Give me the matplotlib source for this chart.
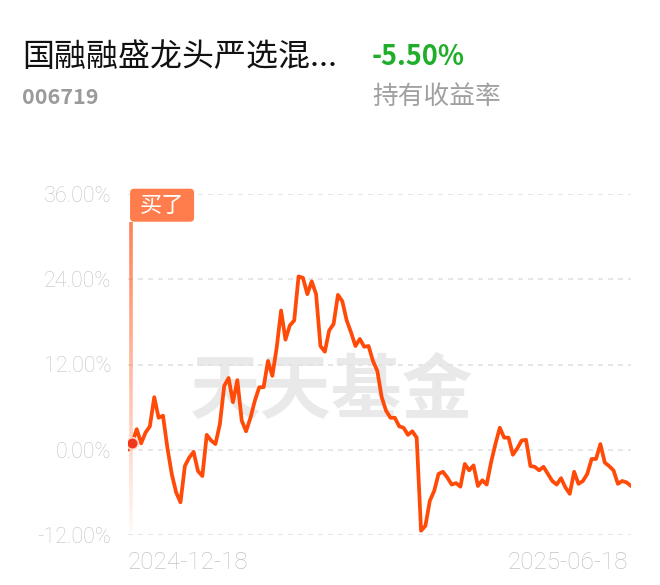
import numpy as np
import matplotlib
matplotlib.use("Agg")
import matplotlib.pyplot as plt
from matplotlib.collections import LineCollection
from matplotlib.patches import FancyBboxPatch
from matplotlib.transforms import ScaledTranslation

plt.rcParams['font.family'] = ['Noto Sans CJK SC', 'DejaVu Sans']

# fund info
fund_name = "国融融盛龙头严选混..."
fund_code = "006719"
hold_return = "-5.50%"
return_label = "持有收益率"
buy_label = "买了"
watermark = "天天基金"
start_date = "2024-12-18"
end_date = "2025-06-18"

# holding return (%) per trading day
returns = [0.0, 1.0, 2.9, 0.9, 2.4, 3.3, 7.4, 4.5, 4.8, 0.3,
           -3.4, -6.0, -7.4, -2.3, -1.1, -0.3, -3.0, -3.7, 2.1, 1.3,
           0.8, 3.6, 9.0, 10.1, 6.7, 9.8, 4.1, 2.6, 4.5, 6.9,
           8.8, 8.8, 12.5, 10.4, 14.4, 19.6, 15.5, 17.5, 18.2, 24.4,
           24.2, 21.9, 23.7, 21.9, 14.6, 13.8, 16.8, 17.7, 21.8, 20.9,
           18.2, 16.5, 14.6, 15.6, 14.5, 14.6, 12.5, 11.1, 7.4, 5.5,
           4.5, 4.5, 3.3, 3.1, 2.1, 2.6, 1.7, -11.4, -10.7, -7.2,
           -5.8, -3.4, -3.1, -3.9, -4.9, -4.7, -5.2, -2.0, -2.9, -2.2,
           -5.1, -4.3, -4.9, -1.8, 0.8, 3.1, 1.7, 1.7, -0.7, 0.2,
           1.3, 1.4, -2.3, -2.4, -2.9, -2.4, -3.4, -4.4, -4.9, -4.0,
           -5.3, -6.2, -3.1, -4.8, -4.4, -3.4, -1.3, -1.3, 0.8, -1.8,
           -2.3, -2.9, -4.8, -4.4, -4.6, -5.1]
yticks = [-12, 0, 12, 24, 36]
buy_index = 1

days = np.arange(len(returns))

fig = plt.figure(figsize=(6.6, 5.85), dpi=100)
fig.patch.set_facecolor("white")
ax = fig.add_axes([128/660, 1-535/585, (631-128)/660, (535-194)/585])
ax.set_xlim(0, len(returns)-1)
ax.set_ylim(-12, 36)
ax.set_facecolor("white")
for s in ax.spines.values():
    s.set_visible(False)

# grid
for y in yticks:
    ax.axhline(y, color="#e2e2e2", lw=1.2, ls=(0, (3, 3)), zorder=1)

ax.set_yticks(yticks)
ax.set_yticklabels(["%.2f%%" % v for v in yticks], family="Roboto",
                   fontweight="light", fontsize=15.5, color="#c4c4c4")
ax.tick_params(axis="y", length=0, pad=12)
ax.set_xticks([])

# watermark
ax.text(0.405, 0.42, watermark, transform=ax.transAxes, ha="center", va="center",
        fontsize=51, fontweight="bold", color="#e9e9e9", zorder=0)

# buy marker: fading vertical line
bx = 0.75
ys = np.linspace(32.1, -11.4, 60)
segs = [[(bx, ys[i]), (bx, ys[i+1])] for i in range(len(ys)-1)]
cols = [(1.0, 0.48, 0.30, a) for a in np.linspace(0.95, 0.05, len(segs))]
ax.add_collection(LineCollection(segs, colors=cols, linewidths=2.6, zorder=2))

trans = fig.dpi_scale_trans + ScaledTranslation(bx, 32.1, ax.transData)
box = FancyBboxPatch((-0.012, 0), 0.64, 0.33, boxstyle="round,pad=0,rounding_size=0.04",
                     fc="#ff7c4c", ec="none", transform=trans, clip_on=False, zorder=5)
ax.add_patch(box)
ax.text(0.308, 0.165, buy_label, transform=trans, ha="center", va="center",
        fontsize=16, color="white", zorder=6)

# return line
ax.plot(days, returns, color="#ff4a08", lw=2.7, solid_joinstyle="round",
        solid_capstyle="round", zorder=3)
ax.scatter([days[buy_index]], [returns[buy_index]], s=70, color="#f2361c",
           edgecolors="#ffd6cc", linewidths=1.2, zorder=4)

# date labels
ax.text(0, -0.08, start_date, transform=ax.transAxes, ha="left", va="center",
        family="Roboto", fontweight="light", fontsize=17.5, color="#c4c4c4")
ax.text(0.994, -0.08, end_date, transform=ax.transAxes, ha="right", va="center",
        family="Roboto", fontweight="light", fontsize=17.5, color="#c4c4c4")

# header
fig.text(22/660, 1-57/585, fund_name, ha="left", va="center", fontsize=23, color="#111111")
fig.text(22/660, 1-97/585, fund_code, ha="left", va="center", fontsize=15.5,
         fontweight="bold", color="#9a9a9a")
fig.text(372/660, 1-57/585, hold_return, ha="left", va="center", fontsize=19.5,
         fontweight="bold", color="#20ad2a")
fig.text(372/660, 1-97/585, return_label, ha="left", va="center", fontsize=18.5,
         color="#a0a0a0")

fig.savefig("out.png", dpi=100, facecolor="white")
